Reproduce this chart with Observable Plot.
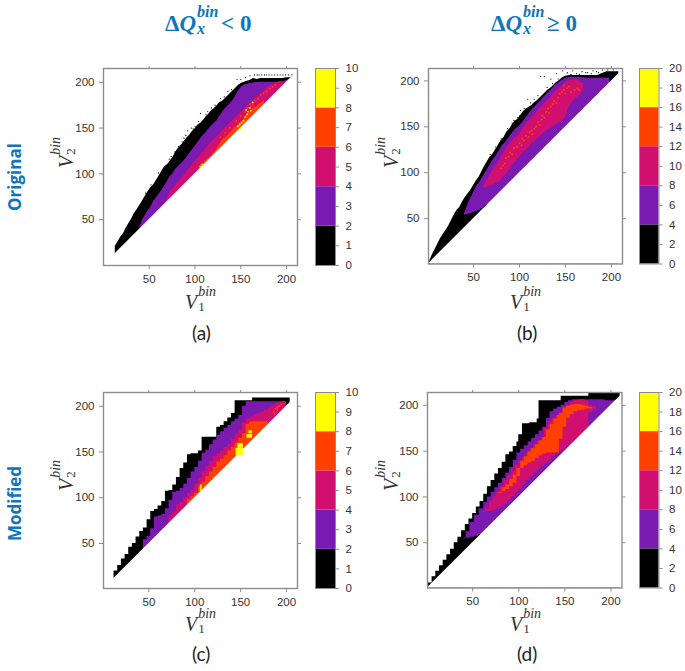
<!DOCTYPE html>
<html>
<head>
<meta charset="utf-8">
<script src="https://cdn.jsdelivr.net/npm/d3@7"></script>
<script src="https://cdn.jsdelivr.net/npm/@observablehq/plot@0.6"></script>
<style>
html,body{margin:0;padding:0;background:#fff}
#page{position:relative;width:685px;height:671px;overflow:hidden}
#page svg{position:absolute;background:transparent;overflow:visible}
.lab{position:absolute;white-space:nowrap;line-height:1}
.m{font-family:"Liberation Serif",serif;font-style:italic;color:#333}
.stack{display:inline-block;position:relative;height:1em;vertical-align:baseline}
.stack i{position:absolute;left:1px;line-height:1}
.head{color:#0f75bd;font-family:"Liberation Serif",serif;font-weight:bold;font-size:23px}
.row{color:#0f75bd;font-family:"Open Sans",sans-serif;font-weight:bold;font-size:17px}
.tag{color:#222;font-family:Lato,sans-serif;font-size:19px}
</style>
</head>
<body>
<div id="page"></div>
<script>
const tickValues = [50, 100, 150, 200];
const palette = ["#000000", "#7a1ab0", "#d00f6e", "#ff4000", "#ffff00"];
const [BLACK, PURPLE, MAGENTA, ORANGE, YELLOW] = palette;
const barTicksA = [0,1,2,3,4,5,6,7,8,9,10];
const barTicksB = [0,2,4,6,8,10,12,14,16,18,20];

// Panel (a)
const aBlackX = [13,16,19,22,25,28,31,34,37,40,43,46,49,52,55,58,61,64,67,70,73,76,79,82,85,88,91,94,97,100,103,106,109,112,115,118,121,124,127,130,133,136,139,142,145,148,151,154,157,160,164,168,172,176,180,184,188,192,196,200,204,206];
const aBlackTop = [21,26,31,35,41,46,51,57,61,66,71,76,81,85,88,93,98,103,108,110,114,118,124,128,131,135,139,142,146,149,153,155,158,162,165,169,171,174,178,179,182,185,188,191,194,197,199,200,201,202,204,203,204,204,204,204,204,204,204,205,205,206];
const aPurpleX = [40,43,46,49,52,55,58,61,64,67,70,73,76,79,82,85,88,91,94,97,100,103,106,109,112,115,118,121,124,127,130,133,136,139,142,145,148,151,154,158,162,170,180,190,198,203];
const aPurpleTop = [42,50,55,60,64,70,74,78,82,87,92,97,100,105,108,111,114,118,122,126,130,134,138,142,145,149,152,155,158,163,167,171,174,177,181,186,191,195,197,198,199,200,200,200,201,203];
const aMagentaX = [68,71,74,77,80,83,86,89,92,95,98,101,104,107,110,113,116,119,122,125,128,131,134,137,140,143,146,149,152,155,158,161,164,167,170,173,176,179,182,185,188,191,194,197];
const aMagentaTop = [68,76,82,85,89,91,96,99,103,107,111,114,118,122,125,129,132,136,138,141,145,148,151,154,157,160,163,166,169,172,175,178,180,183,186,188,191,194,196,197,199,200,200,200];
const aOrangeX = [103,106,109,112,116,120,124,128,131,134,137,140,143,146,149,152,155,158,161,164,167,170,173,176];
const aOrangeTop = [103,110,112,115,118,122,127,134,138,140,143,146,150,152,155,158,163,166,168,172,173,176,178,180];
const aOrangeDotX = [158,160,163,166,169,172,175,178,182,185,188,155,150,145,138,133,128];
const aOrangeDotY = [172,176,175,180,182,186,188,190,193,195,197,168,163,158,150,145,140];
const aYellowDotX = [147,149,151,153,155,157,158,160,161,156,163,108,106,150];
const aYellowDotY = [152,154,156,158,162,165,168,172,169,170,178,110,108,150];
const aSpeckX = [106,112,92,88,86,82,78,72,150,146,155,160,165,168,170,173,176,178,181,184,187,190,193,196,199,202,206,108,100,96,118,128,136,60,66,74,84,90,98,104,114,122,132,140,52,46];
const aSpeckY = [166,165,147,139,135,130,124,116,203,203,205,207,208,208,208,208,208,208,208,208,208,208,208,208,208,208,208,158,152,150,172,182,190,101,106,119,131,142,149,157,168,175,184,192,88,79];

// Panel (b)
const bBlackX = [2,5,8,11,14,17,20,23,26,29,32,35,38,41,44,47,50,53,56,59,62,65,68,71,74,77,80,83,86,89,92,95,98,101,104,107,110,113,116,119,122,125,128,131,134,137,140,143,146,150,155,160,165,170,175,180,185,190,195,200,205,208];
const bBlackTop = [3,10,16,22,28,33,37,42,48,54,59,62,68,73,77,81,86,91,95,101,107,112,117,120,125,130,135,138,144,147,152,156,158,162,166,169,171,173,176,178,181,184,187,190,192,195,198,200,203,205,206,206,206,206,206,206,206,208,210,210,210,210];
const bPurpleX = [40,42,45,48,51,54,57,60,63,66,69,72,75,78,81,84,87,90,93,96,99,102,105,108,111,114,117,120,123,126,129,132,135,138,141,144,147,150,155,165,175,185,192,198];
const bPurpleLow = [54,54,55,56,57,58,59,61,64,66];
const bPurpleTop = [55,60,68,74,80,86,90,95,100,105,110,115,119,124,129,132,136,140,144,148,150,153,157,161,165,169,172,175,178,182,185,188,191,194,197,199,201,203,204,204,203,203,203,203];
const bMagentaX = [61,64,67,70,74,78,82,86,90,94,98,102,106,110,114,118,122,126,130,134,138,142,146,150,154,158,162,166,170];
const bMagentaLow = [84,84,85,86,88,90,94,99,104,110,114,119,123,127,132,135,139,143,146,148,151,154,156,160,172,177,181,185,190];
const bMagentaTop = [85,90,96,101,107,113,120,127,132,137,140,146,151,156,160,165,170,174,178,182,187,191,194,198,200,201,201,199,197];
const bOrangeDotX = [80,82,84,85,88,90,92,94,97,100,102,103,105,107,110,111,113,114,116,118,120,122,124,125,127,129,131,132,134,136,138,140,142,144,146,148,150,152,148,154,156,160,163,165];
const bOrangeDotY = [105,108,110,116,117,122,120,127,128,132,130,137,135,140,139,144,146,142,148,150,155,152,158,162,160,166,170,165,172,175,178,176,182,186,188,190,186,192,195,194,188,190,192,190];
const bSpeckX = [123,127,134,140,147,156,162,168,174,180,186,109,116,101,105,100,94,87,112,120,152,158,165,172,178,184,190,196,202,80,74,68,92,98,104,130,136,142];
const bSpeckY = [205,205,202,208,211,207,208,210,209,211,209,180,180,168,170,162,157,148,176,184,209,211,207,209,208,210,212,212,212,137,128,120,154,160,166,193,197,202];

// Panel (c)
const cBlackX = [12,16,20,24,28,32,36,40,44,48,52,56,60,64,68,72,76,80,84,88,92,96,100,104,108,120,124,128,132,136,140,144,163,204];
const cBlackTop = [20,26,33,38,46,50,57,63,67,76,85,87,91,96,107,108,114,122,132,138,147,148,148,151,166,166,177,179,183,187,192,206,209,215];
const cPurpleX = [40,44,48,52,56,60,64,68,72,76,80,84,88,92,96,100,104,108,112,116,120,124,128,132,136,140,144,148,152,156,200];
const cPurpleTop = [41,54,58,66,79,80,82,88,97,106,107,110,115,121,128,133,140,149,152,158,163,168,172,176,179,183,186,190,200,205,205];
const cMagentaX = [68,72,76,80,84,88,92,96,100,104,108,112,116,120,124,128,132,136,140,144,148,152,156,160,164,168,172,176,180,184,188,192,196,200];
const cMagentaTop = [68,80,84,92,95,100,105,108,115,121,129,134,140,145,148,151,155,158,164,170,174,182,186,188,191,192,194,196,198,201,203,204,205,205];
const cOrangeX = [90,92,96,100,104,108,112,116,120,124,128,132,136,140,144,148,152,156,160,180];
const cOrangeTop = [90,98,101,105,112,117,123,128,133,139,142,146,151,155,160,165,170,180,183,182];
const cOrangeDotX = [186,188,190,192,194,190,187];
const cOrangeDotY = [194,197,199,200,202,196,192];
const cYellowX1 = [145,147,157,159,106];
const cYellowX2 = [153,153,163,163,108];
const cYellowY1 = [146,154,165,170,107];
const cYellowY2 = [154,159,169,173,114];

// Panel (d)
const dBlackX = [2,6,10,14,18,22,26,30,34,38,42,46,50,54,58,62,66,70,74,78,82,86,90,94,98,100,104,108,112,116,120,122,146,176,210];
const dBlackTop = [6,13,19,25,31,37,43,50,56,63,70,76,82,89,95,103,111,118,125,131,138,146,149,155,160,168,180,180,181,181,185,205,210,213,213];
const dPurpleX = [36,40,43,47,52,57,62,66,70,74,78,82,86,90,94,98,102,106,110,114,118,122,126,130,134,138,142,146,150,154,158,190,194,198,206];
const dPurpleLow = [53,54,55,56,57,59,62,65];
const dPurpleTop = [53,55,62,72,80,87,94,100,105,110,115,120,126,132,140,148,152,156,160,164,168,172,176,186,193,196,198,200,203,205,206,206,205,205,206];
const dMagentaX = [60,64,68,72,76,80,84,88,92,96,100,104,108,112,116,120,124,128,132,136,140,144,148,152,156,160,164,168,172,176,180,184];
const dMagentaLow = [83,84,84,85,87,89,92,96,100,104,108,113,118,122,126,129,133,136,139,144,148,150,152,156,158,161,164,168,172,192,194,195];
const dMagentaTop = [84,88,95,100,105,111,118,123,129,135,139,143,148,153,157,161,165,175,182,186,189,192,197,200,203,205,206,206,205,200,199,198];
const dOrangeX = [78,82,86,90,94,98,102,106,110,114,118,122,126,130,134,138,142,144,148,152,156,160,164,168,172,176,180];
const dOrangeLow = [104,106,108,111,115,122,131,134,137,139,142,145,147,148,148,148,148,163,176,186,190,193,194,195,196,196,196];
const dOrangeTop = [105,110,113,119,124,131,139,144,149,153,157,161,165,173,179,185,189,191,197,199,200,201,201,200,199,198,197];

const fontAxis = '"Liberation Sans", Arial, sans-serif';
const axisColor = "#333";
const frameColor = "#8c8c8c";
const page = document.getElementById("page");

function band(xs, top, fill, curve, low, yMin) {
  const idx = xs.map((_, i) => i);
  return Plot.areaY(idx, {
    x: i => xs[i],
    y1: i => (low && low[i] !== undefined ? low[i] : yMin),
    y2: i => top[i],
    fill, curve
  });
}
function dots(xs, ys, fill, r) {
  return Plot.dot(xs.map((_, i) => i), {x: i => xs[i], y: i => ys[i], fill, r, stroke: "none"});
}

const mL = 40, mR = 8, mT = 8, mB = 30;

function panel(box, xDomain, yDomain, layers) {
  const [x0, x1] = xDomain;
  const [y0] = yDomain;
  const cover = Plot.areaY([x0, x1], {x: d => d, y1: y0, y2: d => d, fill: "#fff"});
  const svg = Plot.plot({
    width: box.w + mL + mR, height: box.h + mT + mB,
    marginLeft: mL, marginRight: mR, marginTop: mT, marginBottom: mB,
    style: {fontFamily: fontAxis, fontSize: "11px", background: "transparent"},
    x: {domain: xDomain}, y: {domain: yDomain},
    marks: [
      ...layers(y0),
      cover,
      ...(box.after || []),
      Plot.frame({stroke: frameColor, strokeWidth: 1.4}),
      Plot.axisX({anchor: "bottom", ticks: tickValues, label: null, tickSize: 4, tickPadding: 5, stroke: frameColor, color: axisColor, fontSize: 11.5}),
      Plot.axisX({anchor: "top", ticks: tickValues, label: null, tickSize: 3, fill: "none", stroke: frameColor}),
      Plot.axisY({anchor: "left", ticks: tickValues, label: null, tickSize: 4, tickPadding: 5, stroke: frameColor, color: axisColor, fontSize: 11.5}),
      Plot.axisY({anchor: "right", ticks: tickValues, label: null, tickSize: 3, fill: "none", stroke: frameColor})
    ]
  });
  svg.style.left = (box.l - mL) + "px";
  svg.style.top = (box.t - mT) + "px";
  page.appendChild(svg);
}

function colorbar(box, ticks) {
  const max = ticks[ticks.length - 1];
  const seg = palette.map((c, i) => i);
  const svg = Plot.plot({
    width: box.w + 40, height: box.h + 16,
    marginLeft: 2, marginRight: 38, marginTop: 8, marginBottom: 8,
    style: {fontFamily: fontAxis, fontSize: "11px", background: "transparent"},
    x: {domain: [0, 1], axis: null},
    y: {domain: [0, max]},
    marks: [
      Plot.rectY(seg, {x1: 0, x2: 1, y1: i => ticks[i * 2], y2: i => ticks[(i + 1) * 2], fill: i => palette[i]}),
      Plot.frame({stroke: frameColor, strokeWidth: 1}),
      Plot.axisY({anchor: "right", ticks, label: null, tickSize: 3, tickPadding: 7, stroke: frameColor, color: axisColor, fontSize: 11.5})
    ]
  });
  svg.style.left = (box.l - 2) + "px";
  svg.style.top = (box.t - 8) + "px";
  page.appendChild(svg);
}

function vLabel(sub, left, top, rotate) {
  const d = document.createElement("div");
  d.className = "lab m";
  d.style.cssText = `left:${left}px;top:${top}px;font-size:20px;` + (rotate ? "transform:rotate(-90deg);transform-origin:0 0;" : "");
  d.innerHTML = `<span>V</span><span class="stack" style="width:20px"><i style="top:-4px;font-size:14px">bin</i><i style="top:11px;font-size:13px;font-style:normal">${sub}</i></span>`;
  page.appendChild(d);
}
function addText(cls, html, left, top, rotate) {
  const d = document.createElement("div");
  d.className = "lab " + cls;
  d.style.cssText = `left:${left}px;top:${top}px;` + (rotate ? "transform:rotate(-90deg);transform-origin:0 0;" : "");
  d.innerHTML = html;
  page.appendChild(d);
}

const step = "linear";
const hold = "step-after";

panel({l: 103, t: 68, w: 194, h: 197,
  after: [
    dots(aOrangeDotX, aOrangeDotY, ORANGE, 1),
    dots(aYellowDotX, aYellowDotY, YELLOW, 0.9),
    dots(aSpeckX, aSpeckY, BLACK, 0.6)
  ]},
  [0.1, 212], [0, 215], y0 => [
    band(aBlackX, aBlackTop, BLACK, step, null, y0),
    band(aPurpleX, aPurpleTop, PURPLE, step, null, y0),
    band(aMagentaX, aMagentaTop, MAGENTA, step, null, y0),
    band(aOrangeX, aOrangeTop, ORANGE, step, null, y0)
  ]);

panel({l: 427.5, t: 68, w: 194, h: 195.5,
  after: [dots(bSpeckX, bSpeckY, BLACK, 0.6)]},
  [1, 212], [0.6, 213.5], y0 => [
    band(bBlackX, bBlackTop, BLACK, step, null, y0),
    band(bPurpleX, bPurpleTop, PURPLE, step, bPurpleLow, y0),
    band(bMagentaX, bMagentaTop, MAGENTA, step, bMagentaLow, y0),
    dots(bOrangeDotX, bOrangeDotY, ORANGE, 1)
  ]);

panel({l: 103, t: 391.5, w: 194, h: 196,
  after: [
    Plot.rect(cYellowX1.map((_, i) => i), {x1: i => cYellowX1[i], x2: i => cYellowX2[i], y1: i => cYellowY1[i], y2: i => cYellowY2[i], fill: YELLOW}),
    dots(cOrangeDotX, cOrangeDotY, ORANGE, 1)
  ]},
  [0.5, 212], [0.8, 215], y0 => [
    band(cBlackX, cBlackTop, BLACK, hold, null, y0),
    band(cPurpleX, cPurpleTop, PURPLE, hold, null, y0),
    band(cMagentaX, cMagentaTop, MAGENTA, hold, null, y0),
    band(cOrangeX, cOrangeTop, ORANGE, hold, null, y0)
  ]);

panel({l: 426.5, t: 391.5, w: 194.5, h: 195.5},
  [1, 212], [0.6, 214], y0 => [
    band(dBlackX, dBlackTop, BLACK, hold, null, y0),
    band(dPurpleX, dPurpleTop, PURPLE, hold, dPurpleLow, y0),
    band(dMagentaX, dMagentaTop, MAGENTA, hold, dMagentaLow, y0),
    band(dOrangeX, dOrangeTop, ORANGE, hold, dOrangeLow, y0)
  ]);

colorbar({l: 315, t: 68, w: 20, h: 197}, barTicksA);
colorbar({l: 639, t: 68, w: 19.5, h: 195.5}, barTicksB);
colorbar({l: 315, t: 391.5, w: 20, h: 196}, barTicksA);
colorbar({l: 638.5, t: 391.5, w: 19.5, h: 195.5}, barTicksB);

vLabel("1", 185, 289, false);
vLabel("1", 510, 289, false);
vLabel("1", 185, 611, false);
vLabel("1", 510, 611, false);
vLabel("2", 53, 168, true);
vLabel("2", 378, 168, true);
vLabel("2", 53, 491, true);
vLabel("2", 378, 491, true);

const headHtml = sym => `<span style="font-style:normal">Δ</span><i>Q</i><span class="stack" style="width:25px"><i style="top:-4px;font-size:16px">bin</i><i style="top:13px;font-size:16px">x</i></span>${sym} 0`;
addText("head", headHtml("&lt;"), 165, 8);
addText("head", headHtml("≥"), 491, 8);
addText("row", "Original", 6, 211, true);
addText("row", "Modified", 6, 541, true);
addText("tag", "(a)", 192, 323);
addText("tag", "(b)", 517, 323);
addText("tag", "(c)", 192, 644);
addText("tag", "(d)", 517, 644);
</script>
</body>
</html>
